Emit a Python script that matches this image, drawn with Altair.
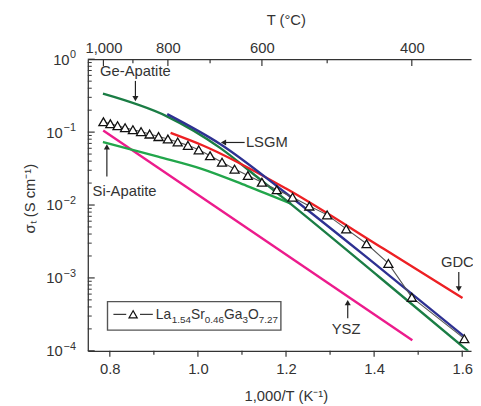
import altair as alt
import pandas as pd

# ---------------- data (x = 1,000/T in K^-1, sigma in S cm^-1) ----------------
ge_x = [0.7844, 0.9296, 1.0503, 1.1330, 1.2000, 1.4123, 1.6134]
ge_sigma = [0.3365, 0.1645, 0.0608, 0.02465, 0.01168, 0.001022, 0.0000991]

si_x = [0.7844, 0.9095, 1.0101, 1.1106, 1.2112]
si_sigma = [0.0733, 0.0460, 0.0311, 0.01834, 0.01048]

lsgm_x = [0.9303, 1.0503, 1.2000, 1.4123, 1.6022]
lsgm_sigma = [0.1767, 0.0688, 0.01453, 0.001387, 0.000162]

gdc_x = [0.9379, 1.0101, 1.2000, 1.4235, 1.6007]
gdc_sigma = [0.0978, 0.0661, 0.01681, 0.002465, 0.000532]

ysz_x = [0.7850, 1.4867]
ysz_sigma = [0.1054, 0.0001396]

la_x = [0.78545, 0.80118, 0.81756, 0.83462, 0.85241, 0.87097, 0.89035, 0.91062,
        0.93183, 0.95406, 0.97737, 1.00185, 1.02759, 1.05468, 1.08325, 1.11340,
        1.14528, 1.17904, 1.21485, 1.25290, 1.29341, 1.33663, 1.38284, 1.43236,
        1.48555, 1.60475]
la_sigma = [0.1387, 0.1303, 0.1225, 0.1151, 0.1081, 0.1016, 0.0940, 0.0869,
            0.0804, 0.0733, 0.0658, 0.0571, 0.0474, 0.0387, 0.0311, 0.0254,
            0.0205, 0.0162, 0.0128, 0.00968, 0.00733, 0.00470, 0.00294, 0.00158,
            0.000542, 0.000147]

# axis tick positions
x_major = [0.8, 1.0, 1.2, 1.4, 1.6]
x_minor = [0.9, 1.1, 1.3, 1.5]
top_x_major = [0.78545, 0.93183, 1.14528, 1.48555]   # 1000, 800, 600, 400 degC
top_x_minor = [0.85241, 1.02759, 1.29341]            # 900, 700, 500 degC
y_major = [1, 0.1, 0.01, 0.001, 0.0001]
y_exp = ["0", "\u22121", "\u22122", "\u22123", "\u22124"]
y_minor = [k * 10.0 ** d for d in (-4, -3, -2, -1) for k in range(2, 10)]

# ---------------- style ----------------
FONT = "Liberation Sans, Arial, sans-serif"
FS = 15
TXT = "#333333"
C_GE, C_SI, C_LSGM, C_GDC, C_YSZ = "#1b7d45", "#22a64b", "#2e3192", "#ed2024", "#ec1b8c"
W, H = 389, 296

xs = alt.Scale(domain=[0.75, 1.62], nice=False, zero=False)
ys = alt.Scale(type="log", domain=[1e-4, 1], nice=False)

one = pd.DataFrame({"a": [0]})


def sdf(xv, sv):
    return pd.DataFrame({"x": xv, "s": sv})


bottom_axis = alt.Axis(values=x_major, format=".1f", ticks=False, grid=False,
                       domainColor=TXT, domainWidth=1.3, labelColor=TXT, labelFont=FONT,
                       labelFontSize=FS, labelPadding=11, labelOverlap=False,
                       title="1,000/T (K\u207b\u00b9)", titleFont=FONT, titleFontSize=FS,
                       titleFontWeight="normal", titleColor=TXT, titleX=201, titleY=50,
                       titleBaseline="alphabetic", titleAlign="center")
left_axis = alt.Axis(labels=False, ticks=False, grid=False, domainColor=TXT, domainWidth=1.3,
                     title="\u03c3\u209c (S cm\u207b\u00b9)", titleFont=FONT, titleFontSize=FS,
                     titleFontWeight="normal", titleColor=TXT, titleX=-54, titleY=141,
                     titleAngle=270, titleBaseline="alphabetic", titleAlign="center")
top_axis = alt.Axis(orient="top", values=top_x_major,
                    labelExpr="format(1000/datum.value - 273.15, ',.0f')",
                    ticks=False, grid=False, domainColor=TXT, domainWidth=1.3,
                    labelColor=TXT, labelFont=FONT, labelFontSize=FS, labelPadding=4,
                    labelOverlap=False, title="T (\u00b0C)", titleFont=FONT, titleFontSize=FS,
                    titleFontWeight="normal", titleColor=TXT, titleX=201, titleY=-35,
                    titleBaseline="alphabetic", titleAlign="center")


def line(xv, sv, color, axes=False, interp="monotone", width=2.4):
    return alt.Chart(sdf(xv, sv)).mark_line(color=color, strokeWidth=width, clip=True,
                                            interpolate=interp).encode(
        x=alt.X("x:Q", scale=xs, axis=bottom_axis if axes else None),
        y=alt.Y("s:Q", scale=ys, axis=left_axis if axes else None),
    )


layers = [
    line(ysz_x, ysz_sigma, C_YSZ, axes=True, interp="linear"),
    line(si_x, si_sigma, C_SI),
    line(ge_x, ge_sigma, C_GE),
    line(gdc_x, gdc_sigma, C_GDC),
    line(lsgm_x, lsgm_sigma, C_LSGM),
    line(la_x, la_sigma, "#555555", interp="linear", width=1.1),
    alt.Chart(sdf(la_x, la_sigma)).mark_point(shape="triangle-up", filled=True, fill="white",
                                              stroke="#111111", strokeWidth=1.3, size=85,
                                              opacity=1, clip=True).encode(
        x=alt.X("x:Q", scale=xs, axis=None), y=alt.Y("s:Q", scale=ys, axis=None)),
]

# top axis ticks (inward)
layers.append(alt.Chart(pd.DataFrame({"x": top_x_major})).mark_rule(color=TXT, strokeWidth=1.2).encode(
    x=alt.X("x:Q", scale=xs, axis=top_axis), y=alt.value(0), y2=alt.value(7)))
layers.append(alt.Chart(pd.DataFrame({"x": top_x_minor})).mark_rule(color=TXT, strokeWidth=1.2).encode(
    x=alt.X("x:Q", scale=xs, axis=None), y=alt.value(0), y2=alt.value(4)))
# bottom ticks (outward)
layers.append(alt.Chart(pd.DataFrame({"x": x_major})).mark_rule(color=TXT, strokeWidth=1.2).encode(
    x=alt.X("x:Q", scale=xs, axis=None), y=alt.value(H), y2=alt.value(H + 6)))
layers.append(alt.Chart(pd.DataFrame({"x": x_minor})).mark_rule(color=TXT, strokeWidth=1.2).encode(
    x=alt.X("x:Q", scale=xs, axis=None), y=alt.value(H), y2=alt.value(H + 4)))
# left ticks (inward)
layers.append(alt.Chart(pd.DataFrame({"v": y_major})).mark_rule(color=TXT, strokeWidth=1.2).encode(
    y=alt.Y("v:Q", scale=ys, axis=None), x=alt.value(0), x2=alt.value(7)))
layers.append(alt.Chart(pd.DataFrame({"v": y_minor})).mark_rule(color=TXT, strokeWidth=1).encode(
    y=alt.Y("v:Q", scale=ys, axis=None), x=alt.value(0), x2=alt.value(4)))

# y tick labels: "10" + superscript exponent
ylab = pd.DataFrame({"v": y_major, "e": y_exp})
layers.append(alt.Chart(ylab).transform_filter("datum.v > 0.5").mark_text(
    text="10", font=FONT, fontSize=FS, color=TXT, align="right", baseline="alphabetic", dy=5.5).encode(
    y=alt.Y("v:Q", scale=ys, axis=None), x=alt.value(-18.5)))
layers.append(alt.Chart(ylab).transform_filter("datum.v < 0.5").mark_text(
    text="10", font=FONT, fontSize=FS, color=TXT, align="right", baseline="alphabetic", dy=5.5).encode(
    y=alt.Y("v:Q", scale=ys, axis=None), x=alt.value(-25.5)))
layers.append(alt.Chart(ylab).mark_text(
    font=FONT, fontSize=11, color=TXT, align="right", baseline="alphabetic", dy=-1).encode(
    y=alt.Y("v:Q", scale=ys, axis=None), x=alt.value(-12), text="e:N"))

# annotations (positions in data coordinates)
ann_text = pd.DataFrame({
    "t": ["Ge-Apatite", "Si-Apatite", "LSGM", "GDC", "YSZ"],
    "x": [0.8581, 0.8335, 1.1564, 1.5890, 1.3363],
    "s": [0.689, 0.01545, 0.0721, 0.00167, 0.0002014],
})
layers.append(alt.Chart(ann_text).mark_text(font=FONT, fontSize=FS, color=TXT, align="center",
                                            baseline="middle").encode(
    x=alt.X("x:Q", scale=xs, axis=None), y=alt.Y("s:Q", scale=ys, axis=None), text="t:N"))

shafts = pd.DataFrame({
    "x1": [0.8581, 0.7933, 1.1061, 1.5922, 1.3401],
    "s1": [0.504, 0.02466, 0.0721, 0.001205, 0.000279],
    "x2": [0.8581, 0.7933, 1.0615, 1.5922, 1.3401],
    "s2": [0.288, 0.0608, 0.0721, 0.00071, 0.000446],
})
layers.append(alt.Chart(shafts).mark_rule(color="#222222", strokeWidth=1.2).encode(
    x=alt.X("x1:Q", scale=xs, axis=None), y=alt.Y("s1:Q", scale=ys, axis=None),
    x2="x2:Q", y2="s2:Q"))

heads = [("triangle-down", 0.8581, 0.288), ("triangle-up", 0.7933, 0.0627),
         ("triangle-left", 1.0581, 0.0721), ("triangle-down", 1.5922, 0.00071),
         ("triangle-up", 1.3401, 0.000459)]
for shp, hx, hs in heads:
    layers.append(alt.Chart(pd.DataFrame({"x": [hx], "s": [hs]})).mark_point(
        shape=shp, filled=True, color="#222222", size=38, opacity=1).encode(
        x=alt.X("x:Q", scale=xs, axis=None), y=alt.Y("s:Q", scale=ys, axis=None)))

# legend box (pixel layout)
layers.append(alt.Chart(one).mark_rect(fill="white", stroke="#555555", strokeWidth=1.4).encode(
    x=alt.value(20), x2=alt.value(196), y=alt.value(246), y2=alt.value(275)))
for xa, xb in [(26, 39), (53, 66)]:
    layers.append(alt.Chart(one).mark_rule(color="#333333", strokeWidth=1.2).encode(
        x=alt.value(xa), x2=alt.value(xb), y=alt.value(259)))
layers.append(alt.Chart(one).mark_point(shape="triangle-up", filled=True, fill="white",
                                        stroke="#111111", strokeWidth=1.2, size=70, opacity=1).encode(
    x=alt.value(46), y=alt.value(259)))
pieces = [("La", 69, 264, 14), ("1.54", 85.3, 268, 10), ("Sr", 104.8, 264, 14),
          ("0.46", 118.8, 268, 10), ("Ga", 138.3, 264, 14), ("3", 157.0, 268, 10),
          ("O", 162.6, 264, 14), ("7.27", 173.5, 268, 10)]
for t, px, py, fs in pieces:
    layers.append(alt.Chart(one).mark_text(text=t, font=FONT, fontSize=fs, color=TXT,
                                           align="left", baseline="alphabetic").encode(
        x=alt.value(px), y=alt.value(py)))

chart = alt.layer(*layers).resolve_axis(x="independent", y="independent").properties(
    width=W, height=H,
    autosize=alt.AutoSizeParams(type="none"),
    padding={"left": 81, "top": 49, "right": 2, "bottom": 52},
).configure_view(stroke=None)

chart.save("out.html", embed_options={"renderer": "svg", "actions": False})
